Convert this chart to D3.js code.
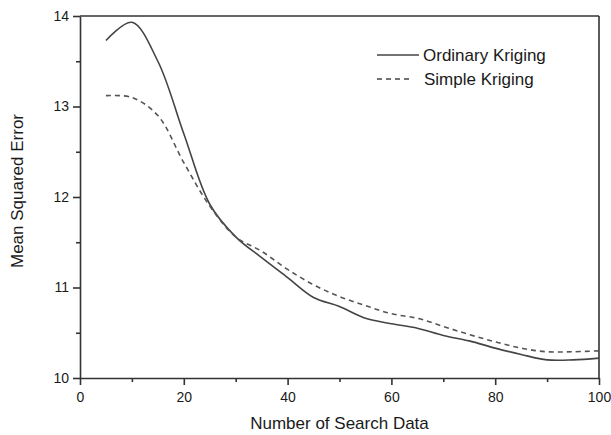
<!DOCTYPE html>
<html>
<head>
<meta charset="utf-8">
<script src="https://cdn.jsdelivr.net/npm/d3@7"></script>
<style>
  body { margin: 0; background: #fff; }
  text { font-family: "Liberation Sans", Arial, sans-serif; fill: #1a1a1a; }
</style>
</head>
<body>
<div id="chart"></div>
<script>
// data
var searchData = [5, 10, 15, 20, 25, 30, 35, 40, 45, 50, 55, 60, 65, 70, 75, 80, 85, 90, 95, 100];
var ordinary = [13.73, 13.93, 13.50, 12.70, 11.92, 11.56, 11.33, 11.11, 10.89, 10.79, 10.66, 10.60, 10.55, 10.47, 10.41, 10.33, 10.26, 10.20, 10.20, 10.22];
var simple   = [13.12, 13.10, 12.90, 12.38, 11.90, 11.56, 11.40, 11.20, 11.03, 10.90, 10.80, 10.71, 10.66, 10.57, 10.48, 10.40, 10.33, 10.29, 10.29, 10.30];
var xTicks = [0, 20, 40, 60, 80, 100];
var xMinor = [10, 30, 50, 70, 90];
var yTicks = [10, 11, 12, 13, 14];
var yMinor = [10.5, 11.5, 12.5, 13.5];
var seriesNames = ["Ordinary Kriging", "Simple Kriging"];

var margin = {top: 16, right: 12, bottom: 57, left: 80},
    width = 611 - margin.left - margin.right,
    height = 435 - margin.top - margin.bottom;

var svg = d3.select("#chart")
  .append("svg")
    .attr("width", 611)
    .attr("height", 435)
  .append("g")
    .attr("transform", "translate(" + margin.left + "," + margin.top + ")");

var x = d3.scaleLinear().domain([0, 100]).range([0, width]);
var y = d3.scaleLinear().domain([10, 14]).range([height, 0]);

// minor ticks first, no labels
svg.append("g")
  .attr("transform", "translate(0," + height + ")")
  .call(d3.axisBottom(x).tickValues(xMinor).tickSize(4).tickFormat(""))
  .call(g => g.select(".domain").remove());
svg.append("g")
  .call(d3.axisLeft(y).tickValues(yMinor).tickSize(4).tickFormat(""))
  .call(g => g.select(".domain").remove());

// major axes
svg.append("g")
  .attr("transform", "translate(0," + height + ")")
  .call(d3.axisBottom(x).tickValues(xTicks).tickFormat(d3.format("d"))
    .tickSizeInner(7).tickSizeOuter(0).tickPadding(7));
svg.append("g")
  .call(d3.axisLeft(y).tickValues(yTicks).tickFormat(d3.format("d"))
    .tickSizeInner(7).tickSizeOuter(0).tickPadding(4));

svg.selectAll(".tick text").style("font-size", "14px");
svg.selectAll(".domain, .tick line").attr("stroke", "#333").attr("stroke-width", 1.6);

// top and right frame
svg.append("line").attr("x1", 0).attr("x2", width).attr("y1", 0).attr("y2", 0)
  .attr("stroke", "#333").attr("stroke-width", 1.6);
svg.append("line").attr("x1", width).attr("x2", width).attr("y1", 0).attr("y2", height)
  .attr("stroke", "#333").attr("stroke-width", 1.6);

// curves
var line = d3.line()
  .x(function(d) { return x(d[0]); })
  .y(function(d) { return y(d[1]); })
  .curve(d3.curveCatmullRom.alpha(0.5));

svg.append("path")
  .datum(searchData.map(function(v, i) { return [v, ordinary[i]]; }))
  .attr("fill", "none")
  .attr("stroke", "#444")
  .attr("stroke-width", 1.6)
  .attr("d", line);

svg.append("path")
  .datum(searchData.map(function(v, i) { return [v, simple[i]]; }))
  .attr("fill", "none")
  .attr("stroke", "#555")
  .attr("stroke-width", 1.6)
  .attr("stroke-dasharray", "5,4")
  .attr("d", line);

// legend
var legend = svg.append("g").attr("transform", "translate(297,39)");
var dashes = ["none", "5,4"];
var lineLen = [42, 33];
seriesNames.forEach(function(name, i) {
  legend.append("line")
    .attr("x1", 0).attr("x2", lineLen[i])
    .attr("y1", i * 24).attr("y2", i * 24)
    .attr("stroke", "#444").attr("stroke-width", 1.6)
    .attr("stroke-dasharray", dashes[i]);
  legend.append("text")
    .attr("x", 46 + i * 1)
    .attr("y", i * 24)
    .attr("dy", "0.35em")
    .style("font-size", "17px")
    .text(name);
});

// axis titles
svg.append("text")
  .attr("x", width / 2)
  .attr("y", height + 51)
  .attr("text-anchor", "middle")
  .style("font-size", "17px")
  .text("Number of Search Data");

svg.append("text")
  .attr("transform", "translate(" + (23 - margin.left) + "," + (191 - margin.top) + ") rotate(-90)")
  .attr("text-anchor", "middle")
  .style("font-size", "17px")
  .text("Mean Squared Error");
</script>
</body>
</html>
